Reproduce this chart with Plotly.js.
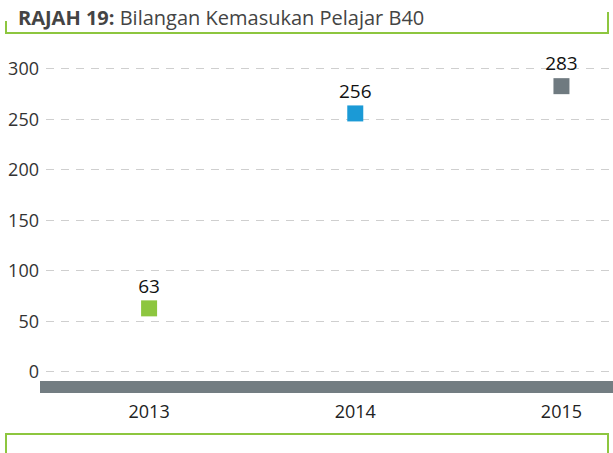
<!DOCTYPE html>
<html><head><meta charset="utf-8">
<script src="https://cdn.plot.ly/plotly-3.0.1.min.js"></script>
<style>html,body{margin:0;padding:0;background:#fff}#c{width:613px;height:453px}</style>
</head><body><div id="c"></div>
<script>
const years = ['2013', '2014', '2015'];
const values = [63, 256, 283];
const colors = ['#8dc63f', '#1b9ad6', '#6f7a80'];
const yTicks = [0, 50, 100, 150, 200, 250, 300];

const FONT = '"Open Sans", Lato, sans-serif';
const W = 613, H = 453, L = 46, R = 0, T = 50, B = 60;
const pw = W - L - R, ph = H - T - B;
const px = v => v / pw, py = v => v / ph;
const BOT = H - B; // pixel y of plot bottom

const trace = {
  type: 'scatter', mode: 'markers+text',
  x: years, y: values,
  text: values.map(String), textposition: 'top center',
  textfont: {family: FONT, size: 19, color: '#111'},
  marker: {symbol: 'square', size: 16, color: colors},
  cliponaxis: false, hoverinfo: 'skip'
};

const layout = {
  width: W, height: H,
  margin: {l: L, r: R, t: T, b: B, pad: 0},
  paper_bgcolor: '#fff', plot_bgcolor: '#fff',
  showlegend: false,
  font: {family: FONT, size: 18, color: '#333'},
  xaxis: {
    type: 'category', range: [-0.5, 2.25],
    showgrid: false, zeroline: false, showline: false, ticks: '',
    tickfont: {family: FONT, size: 18, color: '#222'}, ticklabelstandoff: 6,
    fixedrange: true
  },
  yaxis: {
    range: [-20.8, 318.8], tickvals: yTicks,
    showgrid: true, gridcolor: '#cfcfcf', griddash: '8px,7px', gridwidth: 1,
    zeroline: false, showline: false, ticks: '',
    tickfont: {family: FONT, size: 18, color: '#333'}, ticklabelstandoff: 6,
    fixedrange: true
  },
  shapes: [
    {type: 'rect', xref: 'paper', yref: 'paper', x0: px(40 - L), x1: 1, y0: 0, y1: py(12),
     fillcolor: '#737d82', line: {width: 0}, layer: 'below'},
    {type: 'path', xref: 'paper', yref: 'paper',
     path: `M ${px(6-L)} ${1+py(T-21)} L ${px(6-L)} ${1+py(T-33)} L ${px(608-L)} ${1+py(T-33)} L ${px(608-L)} ${1+py(T-12)}`,
     line: {color: '#8dc63f', width: 2}},
    {type: 'path', xref: 'paper', yref: 'paper',
     path: `M ${px(6-L)} ${-py(460-BOT)} L ${px(6-L)} ${-py(434-BOT)} L ${px(608-L)} ${-py(434-BOT)} L ${px(608-L)} ${-py(460-BOT)}`,
     line: {color: '#8dc63f', width: 2}}
  ],
  annotations: [
    {xref: 'paper', yref: 'paper', x: px(16 - L), y: 1 + py(T - 18), xanchor: 'left', yanchor: 'middle',
     showarrow: false,
     text: '<b>RAJAH 19</b><b>:</b> Bilangan Kemasukan Pelajar B40',
     font: {family: FONT, size: 20, color: '#444'}}
  ]
};

Plotly.newPlot('c', [trace], layout, {displayModeBar: false, staticPlot: true});
</script></body></html>
